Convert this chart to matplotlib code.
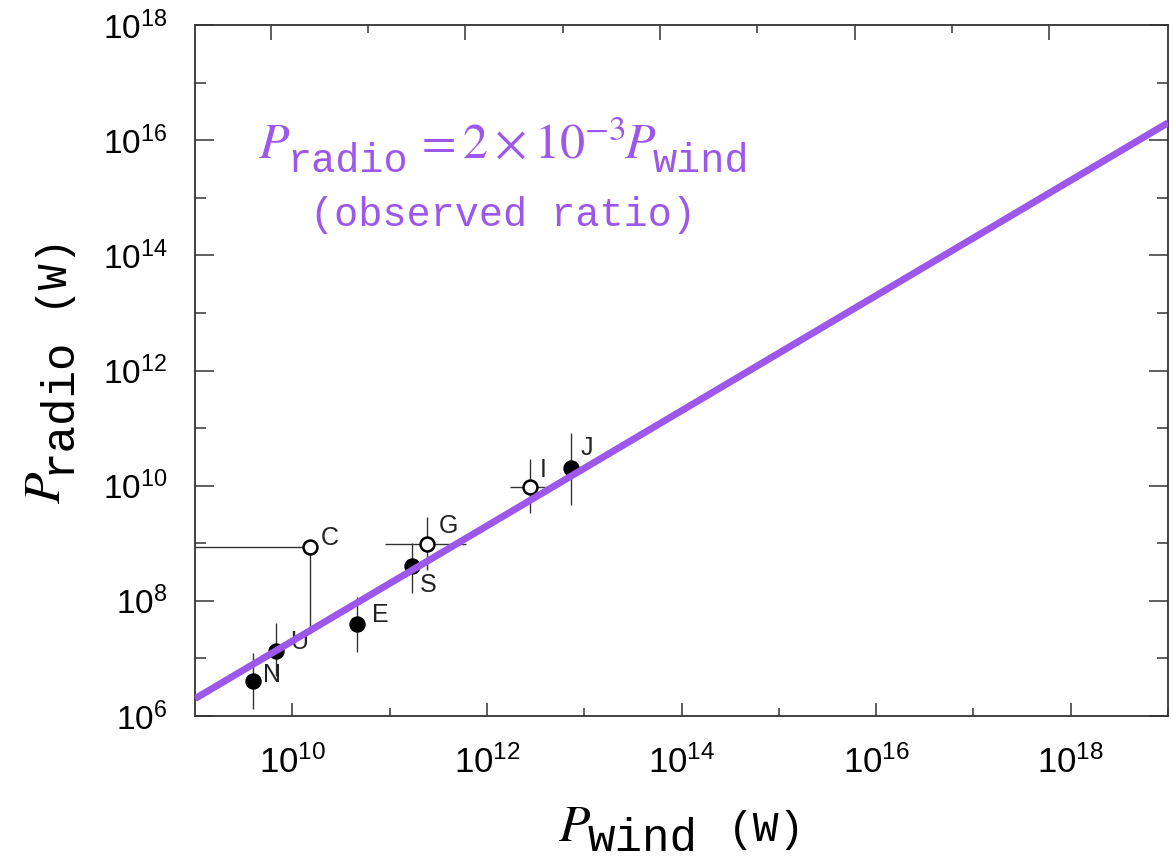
import numpy as np
import matplotlib
matplotlib.use("Agg")
import matplotlib.pyplot as plt
from matplotlib.ticker import FixedLocator, NullFormatter
from matplotlib.transforms import IdentityTransform

plt.rcParams['mathtext.fontset'] = 'custom'
plt.rcParams['mathtext.rm'] = 'STIXGeneral'
plt.rcParams['mathtext.it'] = 'STIXGeneral:italic'
plt.rcParams['mathtext.sf'] = 'Liberation Sans'
plt.rcParams['mathtext.tt'] = 'Liberation Mono'
plt.rcParams['font.family'] = ['Liberation Sans', 'DejaVu Sans']

# ---- data (log10 of watts) ----
names = ['N', 'U', 'C', 'E', 'S', 'G', 'I', 'J']
filled = [True, True, False, True, True, False, False, True]
log_wind = [9.60, 9.83, 10.18, 10.66, 11.23, 11.38, 12.44, 12.86]
log_radio = [6.60, 7.13, 8.93, 7.60, 8.61, 8.99, 9.98, 10.31]
log_radio_lo = [6.13, 6.70, 7.55, 7.12, 8.13, 8.53, 9.52, 9.66]
log_radio_hi = [7.09, 7.61, 8.93, 8.07, 9.00, 9.46, 10.46, 10.91]
log_wind_lo = [9.60, 9.83, 8.00, 10.66, 11.23, 10.95, 12.24, 12.86]
log_wind_hi = [9.60, 9.83, 10.18, 10.66, 11.23, 11.79, 12.60, 12.86]
label_offsets = [(7, 5), (10, 6.5), (8, 7), (11, 6.5), (5.5, -14), (8.5, 12.5), (7.5, 12), (7.5, 14)]

ratio = 2e-3
fit_wind = [1e9, 1e19]

x_major = [10, 12, 14, 16, 18]
y_major = [6, 8, 10, 12, 14, 16, 18]

purple = '#9d57ea'
dark = '#333333'
H = 860

fig = plt.figure(figsize=(11.73, 8.6), dpi=100)
ax = fig.add_axes([195/1173, 1 - 716/860, (1168-195)/1173, (716-25)/860])
ax.set_xscale('log')
ax.set_yscale('log')
ax.set_xlim(1e9, 1e19)
ax.set_ylim(1e6, 1e18)

w = 10.0 ** np.array(log_wind)
r = 10.0 ** np.array(log_radio)
for i in range(len(names)):
    ax.plot([w[i], w[i]], [10**log_radio_lo[i], 10**log_radio_hi[i]],
            color=dark, lw=1.0, zorder=2, solid_capstyle='butt')
    if log_wind_hi[i] != log_wind_lo[i]:
        ax.plot([10**log_wind_lo[i], 10**log_wind_hi[i]], [r[i], r[i]],
                color=dark, lw=1.0, zorder=2, solid_capstyle='butt')

for i in range(len(names)):
    ax.plot(w[i], r[i], 'o', ms=10,
            mfc='black' if filled[i] else 'white', mec='black', mew=1.8, zorder=3)
    ax.annotate(names[i], (w[i], r[i]), xytext=label_offsets[i], textcoords='offset points',
                fontsize=18, color='#222222', ha='left', va='center', zorder=4)

fw = np.array(fit_wind)
ax.plot(fw, ratio * fw, color=purple, lw=5.0, zorder=5, solid_capstyle='butt')

# ticks
ax.xaxis.set_major_locator(FixedLocator([10.0**k for k in x_major]))
ax.xaxis.set_minor_locator(FixedLocator([10.0**(k+1) for k in x_major[:-1]] + [1e19]))
ax.yaxis.set_major_locator(FixedLocator([10.0**k for k in y_major]))
ax.yaxis.set_minor_locator(FixedLocator([10.0**(k+1) for k in y_major[:-1]]))
ax.xaxis.set_minor_formatter(NullFormatter())
ax.yaxis.set_minor_formatter(NullFormatter())
ax.set_xticklabels([r'$\mathsf{10^{%d}}$' % k for k in x_major])
ax.set_yticklabels([r'$\mathsf{10^{%d}}$' % k for k in y_major])

ax.tick_params(axis='x', which='major', direction='in', length=9.5, width=1.1, color=dark,
               labelsize=25, pad=21, top=False, bottom=True)
ax.tick_params(axis='x', which='minor', direction='in', length=5.5, width=1.1, color=dark,
               top=False, bottom=True)
ax.tick_params(axis='y', which='major', direction='in', length=14, width=1.1, color=dark,
               labelsize=24, pad=20, left=True, right=True)
ax.tick_params(axis='y', which='minor', direction='in', length=8, width=1.1, color=dark,
               left=True, right=True)

for s in ax.spines.values():
    s.set_color(dark)
    s.set_linewidth(1.3)

# top ticks (slightly offset in the original figure)
shift = 10 ** (-0.22)
axt = ax.twiny()
axt.set_xscale('log')
axt.set_xlim(1e9, 1e19)
axt.xaxis.set_major_locator(FixedLocator([10.0**k * shift for k in x_major]))
axt.xaxis.set_minor_locator(FixedLocator([10.0**(k+1) * shift for k in x_major[:-1]]))
axt.xaxis.set_major_formatter(NullFormatter())
axt.xaxis.set_minor_formatter(NullFormatter())
axt.tick_params(axis='x', which='major', direction='in', length=11, width=1.1, color=dark)
axt.tick_params(axis='x', which='minor', direction='in', length=6, width=1.1, color=dark)
for s in axt.spines.values():
    s.set_visible(False)

# ---- composed labels (mixed sizes) ----
renderer = fig.canvas.get_renderer()


def measure(s, size, fam):
    t = fig.text(0, 0, s, fontsize=size, family=fam)
    wd = t.get_window_extent(renderer).width
    t.remove()
    return wd


def compose(pieces, cx, by, rotation=0, color='black'):
    # pieces: (text, size, family, drop_px, gap_px)
    widths = [measure(p[0], p[1], p[2]) for p in pieces]
    total = sum(wd + p[4] for wd, p in zip(widths, pieces))
    pos = -total / 2
    for (s, size, fam, dy, gap), wd in zip(pieces, widths):
        pos += gap
        if rotation == 0:
            x, y = cx + pos, by - dy
        else:
            x, y = cx + dy, by + pos
        fig.text(x, y, s, fontsize=size, family=fam, color=color,
                 transform=IdentityTransform(), ha='left', va='baseline',
                 rotation=rotation, rotation_mode='anchor')
        pos += wd


mono = 'Liberation Mono'
compose([(r'$P$', 36, None, 0, 0),
         ('radio', 29, mono, 14, -3),
         (r'$=2\times10^{-3}$', 36, None, 0, 6),
         (r'$P$', 36, None, 0, -2),
         ('wind', 29, mono, 14, -3)],
        503.5, H - 158, color=purple)
fig.text(503/1173, 1 - 215/860, '(observed ratio)', family=mono,
         color=purple, fontsize=29, ha='center', va='center')

compose([(r'$P$', 37, None, 0, 0),
         ('wind', 33, mono, 10, -3),
         ('(W)', 31, mono, 0, 30)],
        681.5, H - 841)
compose([(r'$P$', 37, None, 0, 0),
         ('radio', 33, mono, 10, -3),
         ('(W)', 31, mono, 0, 30)],
        60, H - 367, rotation=90)

fig.savefig('out.png', dpi=100)
